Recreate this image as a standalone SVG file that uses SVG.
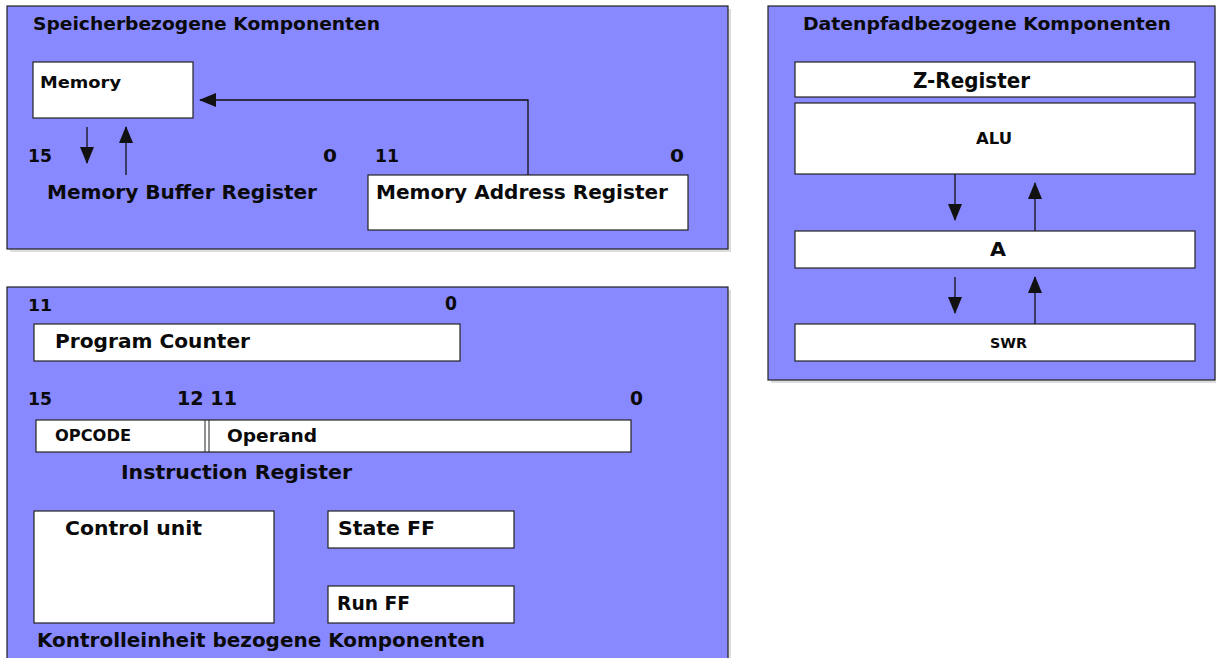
<svg xmlns="http://www.w3.org/2000/svg" width="1216" height="658" viewBox="0 0 1216 658">
<style>
.panel{fill:#8888ff;stroke:#222;stroke-width:1.2}
.shadow{fill:#bbb;opacity:0.5}
.box{fill:#fff;stroke:#222;stroke-width:1.2}
.t{font-family:"DejaVu Sans","Liberation Sans",sans-serif;font-weight:bold;fill:#0a0a0a}
.line{fill:none;stroke:#111;stroke-width:1.3}
</style>
<defs>
<marker id="ah" markerWidth="17" markerHeight="14" refX="16" refY="7" orient="auto" markerUnits="userSpaceOnUse">
<path d="M0,0 L17,7 L0,14 z" fill="#111"/>
</marker>
</defs>
<rect width="1216" height="658" fill="#fff"/>
<g id="panel-speicher">
<rect class="shadow" x="10" y="9" width="721" height="243"/>
<rect class="panel" x="7" y="6" width="721" height="243"/>
<text class="t" x="33" y="30" font-size="17" textLength="347" lengthAdjust="spacingAndGlyphs">Speicherbezogene Komponenten</text>
</g>
<g id="memory">
<rect class="box" x="33" y="62" width="160" height="56"/>
<text class="t" x="40" y="88" font-size="16" textLength="81" lengthAdjust="spacingAndGlyphs">Memory</text>
</g>
<g id="mbr">
<text class="t" x="28" y="162" font-size="17" textLength="24" lengthAdjust="spacingAndGlyphs">15</text>
<text class="t" x="323" y="162" font-size="18" textLength="14" lengthAdjust="spacingAndGlyphs">0</text>
<text class="t" x="47" y="199" font-size="20" textLength="270" lengthAdjust="spacingAndGlyphs">Memory Buffer Register</text>
</g>
<g id="mar">
<text class="t" x="375" y="162" font-size="17" textLength="24" lengthAdjust="spacingAndGlyphs">11</text>
<text class="t" x="670" y="162" font-size="18" textLength="14" lengthAdjust="spacingAndGlyphs">0</text>
<rect class="box" x="368" y="175" width="320" height="55"/>
<text class="t" x="376" y="199" font-size="20" textLength="292" lengthAdjust="spacingAndGlyphs">Memory Address Register</text>
</g>
<g id="panel-datenpfad">
<rect class="shadow" x="771" y="9" width="447" height="374"/>
<rect class="panel" x="768" y="6" width="447" height="374"/>
<text class="t" x="803" y="30" font-size="17" textLength="368" lengthAdjust="spacingAndGlyphs">Datenpfadbezogene Komponenten</text>
</g>
<g id="z-register">
<rect class="box" x="795" y="62" width="400" height="35"/>
<text class="t" x="913" y="88" font-size="21" textLength="117" lengthAdjust="spacingAndGlyphs">Z-Register</text>
</g>
<g id="alu">
<rect class="box" x="795" y="103" width="400" height="71"/>
<text class="t" x="976" y="144" font-size="16" textLength="36" lengthAdjust="spacingAndGlyphs">ALU</text>
</g>
<g id="a">
<rect class="box" x="795" y="231" width="400" height="37"/>
<text class="t" x="990" y="256" font-size="20" textLength="16" lengthAdjust="spacingAndGlyphs">A</text>
</g>
<g id="swr">
<rect class="box" x="795" y="324" width="400" height="37"/>
<text class="t" x="990" y="348" font-size="14" textLength="37" lengthAdjust="spacingAndGlyphs">SWR</text>
</g>
<g id="panel-kontroll">
<rect class="shadow" x="10" y="290" width="721" height="372"/>
<rect class="panel" x="7" y="287" width="721" height="375"/>
<text class="t" x="37" y="647" font-size="20" textLength="448" lengthAdjust="spacingAndGlyphs">Kontrolleinheit bezogene Komponenten</text>
</g>
<g id="program-counter">
<text class="t" x="28" y="311" font-size="16" textLength="24" lengthAdjust="spacingAndGlyphs">11</text>
<text class="t" x="445" y="310" font-size="19" textLength="12" lengthAdjust="spacingAndGlyphs">0</text>
<rect class="box" x="34" y="324" width="426" height="37"/>
<text class="t" x="55" y="348" font-size="20" textLength="195" lengthAdjust="spacingAndGlyphs">Program Counter</text>
</g>
<g id="instruction-register">
<text class="t" x="28" y="405" font-size="17" textLength="24" lengthAdjust="spacingAndGlyphs">15</text>
<text class="t" x="177" y="405" font-size="20" textLength="60" lengthAdjust="spacingAndGlyphs">12 11</text>
<text class="t" x="630" y="405" font-size="20" textLength="13" lengthAdjust="spacingAndGlyphs">0</text>
<rect class="box" x="36" y="420" width="595" height="32"/>
<line x1="205" y1="420" x2="205" y2="452" stroke="#222" stroke-width="1"/>
<line x1="209" y1="420" x2="209" y2="452" stroke="#222" stroke-width="1"/>
<text class="t" x="55" y="441" font-size="15" textLength="76" lengthAdjust="spacingAndGlyphs">OPCODE</text>
<text class="t" x="227" y="442" font-size="18" textLength="90" lengthAdjust="spacingAndGlyphs">Operand</text>
<text class="t" x="121" y="479" font-size="20" textLength="231" lengthAdjust="spacingAndGlyphs">Instruction Register</text>
</g>
<g id="control-unit">
<rect class="box" x="34" y="511" width="240" height="112"/>
<text class="t" x="65" y="535" font-size="20" textLength="137" lengthAdjust="spacingAndGlyphs">Control unit</text>
</g>
<g id="state-ff">
<rect class="box" x="328" y="511" width="186" height="37"/>
<text class="t" x="338" y="535" font-size="20" textLength="97" lengthAdjust="spacingAndGlyphs">State FF</text>
</g>
<g id="run-ff">
<rect class="box" x="328" y="586" width="186" height="37"/>
<text class="t" x="337" y="610" font-size="20" textLength="73" lengthAdjust="spacingAndGlyphs">Run FF</text>
</g>
<g id="connectors">
<path class="line" d="M528,175 L528,100 L200,100" marker-end="url(#ah)"/>
<path class="line" d="M87,127 L87,163" marker-end="url(#ah)"/>
<path class="line" d="M126,175 L126,127" marker-end="url(#ah)"/>
<path class="line" d="M955,174 L955,220" marker-end="url(#ah)"/>
<path class="line" d="M1035,231 L1035,183" marker-end="url(#ah)"/>
<path class="line" d="M955,277 L955,313" marker-end="url(#ah)"/>
<path class="line" d="M1035,324 L1035,277" marker-end="url(#ah)"/>
</g>
</svg>
